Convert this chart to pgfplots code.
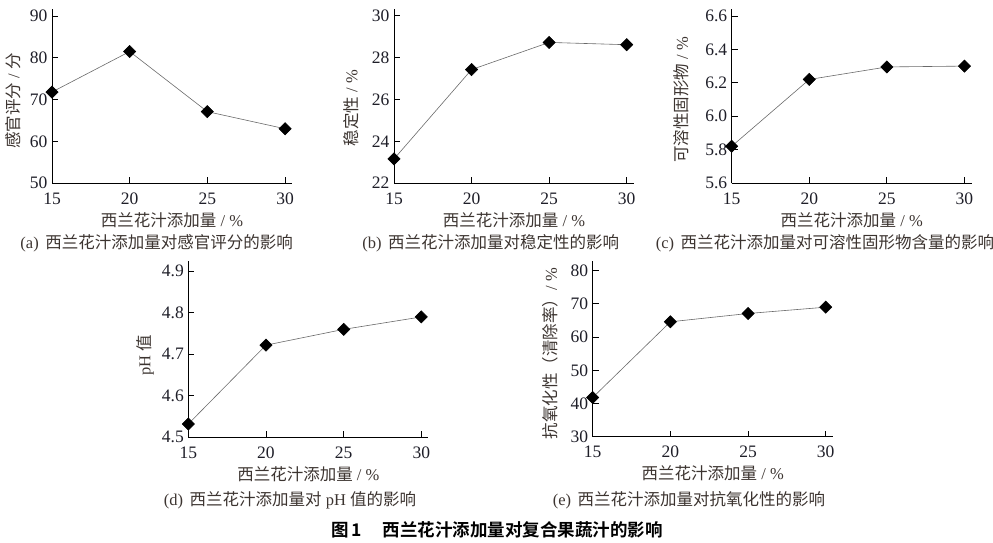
\documentclass[border=0pt]{standalone}
\usepackage{pgfplots}
\pgfplotsset{compat=1.18}
\usepackage{fontspec}
\setmainfont{Liberation Serif}
\newfontfamily\cjk{Noto Sans CJK SC}
\newfontfamily\cjkb{Noto Sans CJK SC}[BoldFont=* Bold]
\definecolor{tickc}{HTML}{1E1E28}
\definecolor{labc}{HTML}{3C3430}
\definecolor{linec}{HTML}{6A6A6A}
\newcommand{\lab}{\fontsize{16.5}{17}\selectfont}
\pgfplotsset{
  sub/.style={
    scale only axis, width=240pt,
    axis lines=left, axis line style={-, line width=0.8pt, black},
    xmin=15, xtick={15,20,25,30},
    tick align=inside, major tick length=6pt,
    tick style={black, line width=0.8pt},
    /pgf/number format/assume math mode=true,
    ticklabel style={font=\fontsize{17.5}{17.5}\selectfont, text=tickc},
    xticklabel style={yshift=-6pt},
    yticklabel style={xshift=-1pt},
    label style={font=\lab, text=labc},
    xlabel style={at={(axis description cs:0.5,0)}, anchor=center, yshift=-37pt},
    clip=false,
  },
  ser/.style={color=linec, line width=0.6pt, mark=square*, mark size=4.3pt,
    mark options={rotate=45, fill=black, draw=black}},
}
\begin{document}
\begin{tikzpicture}
\path[use as bounding box] (0,0) rectangle (993pt,543pt);
% (a)
\begin{axis}[sub, at={(52pt,360pt)}, anchor=south west, height=174pt,
  xmax=30.45, ymin=50, ymax=91.7, ytick={50,60,70,80,90},
  xlabel={{\cjk 西兰花汁添加量} / \%},
  ylabel={{\cjk 感官评分} / {\cjk 分}},
  ylabel style={at={(axis description cs:0,0.5)}, anchor=center, xshift=-5pt, yshift=39pt}]
\addplot[ser] coordinates {(15,71.8) (20,81.5) (25,67.1) (30,63.0)};
\end{axis}
% (b)
\begin{axis}[sub, at={(394pt,360pt)}, anchor=south west, height=174pt,
  xmax=30.47, ymin=22, ymax=30.33, ytick={22,24,26,28,30},
  xlabel={{\cjk 西兰花汁添加量} / \%},
  ylabel={{\cjk 稳定性} / \%},
  ylabel style={at={(axis description cs:0,0.5)}, anchor=center, xshift=-12pt, yshift=43pt}]
\addplot[ser] coordinates {(15,23.15) (20,27.43) (25,28.73) (30,28.62)};
\end{axis}
% (c)
\begin{axis}[sub, at={(731.7pt,360pt)}, anchor=south west, height=174pt,
  xmax=30.47, ymin=5.6, ymax=6.642, ytick={5.6,5.8,6.0,6.2,6.4,6.6},
  yticklabel style={/pgf/number format/.cd, fixed, fixed zerofill, precision=1},
  xlabel={{\cjk 西兰花汁添加量} / \%},
  ylabel={{\cjk 可溶性固形物} / \%},
  ylabel style={at={(axis description cs:0,0.5)}, anchor=center, xshift=-4pt, yshift=50pt}]
\addplot[ser] coordinates {(15,5.82) (20,6.22) (25,6.295) (30,6.30)};
\end{axis}
% (d)
\begin{axis}[sub, at={(188.3pt,105.7pt)}, anchor=south west, height=176pt,
  xmax=30.45, ymin=4.5, ymax=4.924, ytick={4.5,4.6,4.7,4.8,4.9},
  yticklabel style={/pgf/number format/.cd, fixed, fixed zerofill, precision=1},
  xlabel={{\cjk 西兰花汁添加量} / \%},
  ylabel={pH {\cjk 值}},
  ylabel style={at={(axis description cs:0,0.5)}, anchor=center, xshift=-6pt, yshift=43pt}]
\addplot[ser] coordinates {(15,4.532) (20,4.722) (25,4.76) (30,4.79)};
\end{axis}
% (e)
\begin{axis}[sub, at={(592.7pt,106.3pt)}, anchor=south west, height=176pt,
  xmax=30.45, ymin=30, ymax=83.0, ytick={30,40,50,60,70,80},
  xlabel={{\cjk 西兰花汁添加量} / \%},
  ylabel={{\cjk 抗氧化性（清除率）}/ \%},
  ylabel style={at={(axis description cs:0,0.5)}, anchor=center, xshift=-5pt, yshift=42pt}]
\addplot[ser] coordinates {(15,41.8) (20,64.6) (25,67.1) (30,69.0)};
\end{axis}
% captions
\node[font=\lab, text=labc] at (156.7pt,300pt) {(a)\hspace{0.4em}{\cjk 西兰花汁添加量对感官评分的影响}};
\node[font=\lab, text=labc] at (490.7pt,300pt) {(b)\hspace{0.4em}{\cjk 西兰花汁添加量对稳定性的影响}};
\node[font=\lab, text=labc] at (825pt,300pt) {(c)\hspace{0.4em}{\cjk 西兰花汁添加量对可溶性固形物含量的影响}};
\node[font=\lab, text=labc] at (290pt,43pt) {(d)\hspace{0.4em}{\cjk 西兰花汁添加量对} pH {\cjk 值的影响}};
\node[font=\lab, text=labc] at (689pt,43pt) {(e)\hspace{0.4em}{\cjk 西兰花汁添加量对抗氧化性的影响}};
\node[font=\fontsize{17.5}{18}\selectfont\cjkb\bfseries, text=black] at (497pt,13pt) {图\,1\hspace{1.2em}西兰花汁添加量对复合果蔬汁的影响};
\end{tikzpicture}
\end{document}
